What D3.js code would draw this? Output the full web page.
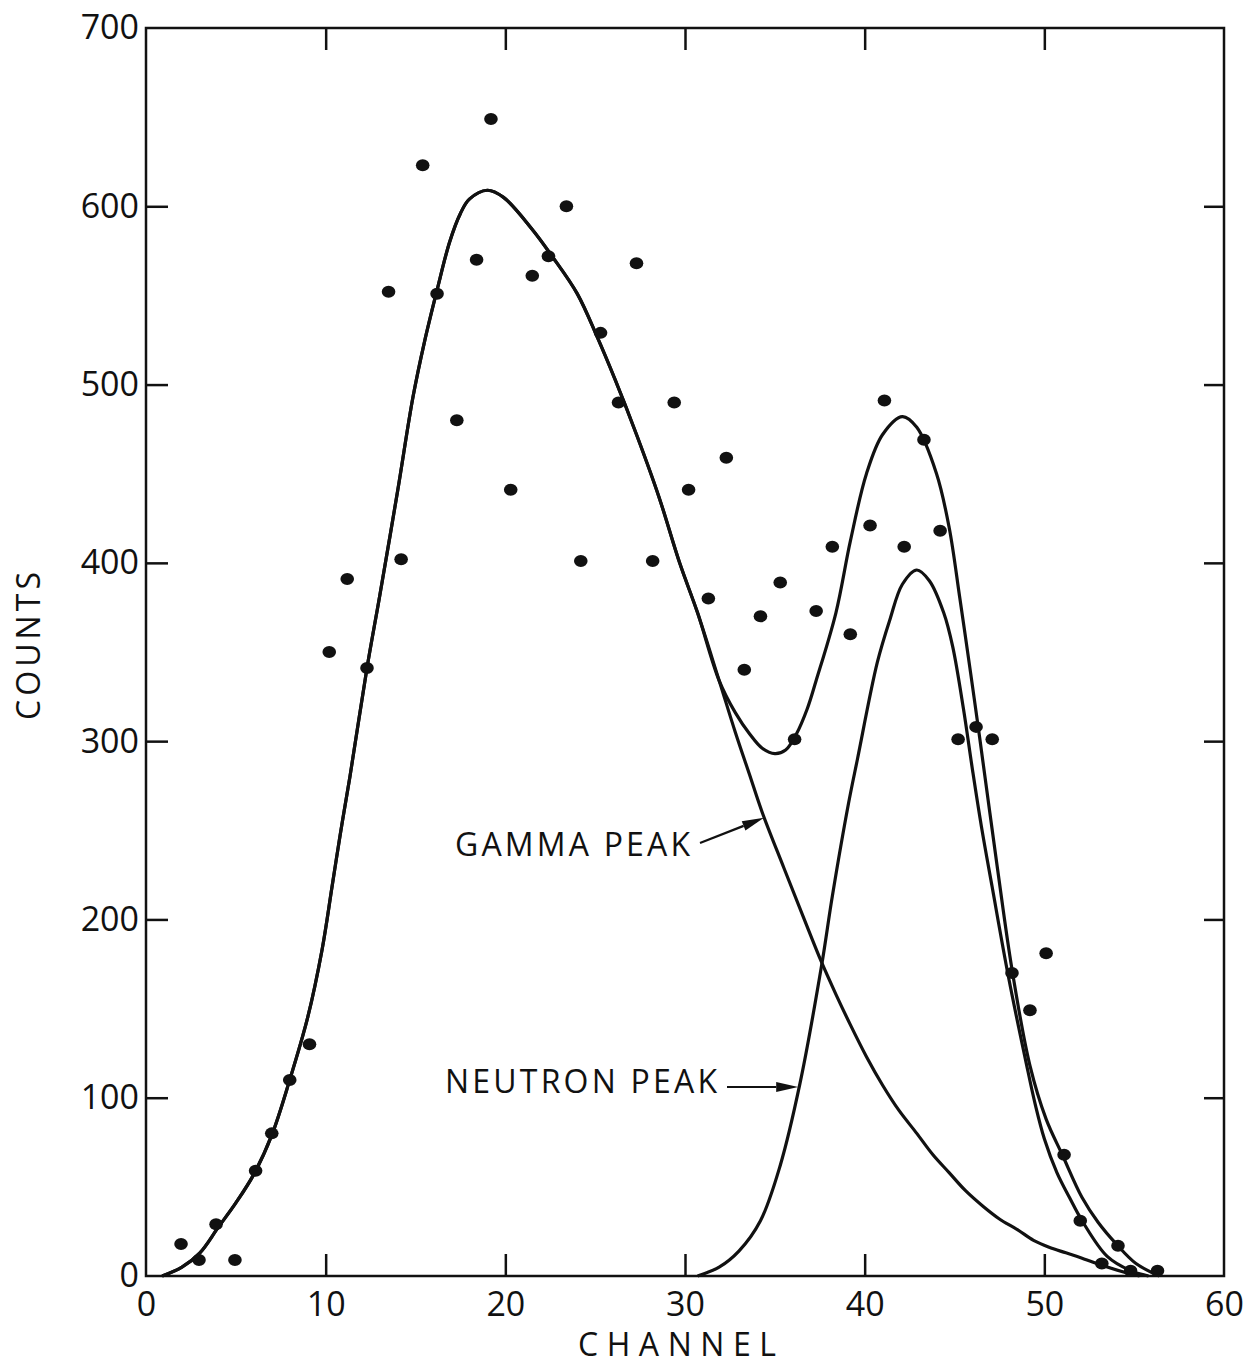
<!DOCTYPE html>
<html>
<head>
<meta charset="utf-8">
<script src="https://cdn.jsdelivr.net/npm/d3@7"></script>
<style>
  html, body { margin: 0; padding: 0; background: #fff; }
  svg { display: block; }
  text { font-family: "Open Sans", "DejaVu Sans", sans-serif; font-weight: 400; fill: #111; }
</style>
</head>
<body>
<svg id="chart" width="1257" height="1365"></svg>
<script>
// ---- data ----
const channel = [1.95,2.95,3.9,4.95,6.1,7.0,8.0,9.1,10.2,11.2,12.3,13.5,14.2,15.4,16.2,17.3,18.4,19.2,20.3,21.5,22.4,23.4,24.2,25.3,26.3,27.3,28.2,29.4,30.2,31.3,32.3,33.3,34.2,35.3,36.1,37.3,38.2,39.2,40.3,41.1,42.2,43.3,44.2,45.2,46.2,47.1,48.2,49.2,50.1,51.1,52.0,53.2,54.1,54.8,56.3];
const counts  = [18,9,29,9,59,80,110,130,350,391,341,552,402,623,551,480,570,649,441,561,572,600,401,529,490,568,401,490,441,380,459,340,370,389,301,373,409,360,421,491,409,469,418,301,308,301,170,149,181,68,31,7,17,3,3];

// total fitted curve
const totalFitX = [0.9,2,3,4,5,6,7,8,9,9.8,10.35,10.8,11.35,12.3,13,14,14.86,15.5,16.2,16.9,17.5,18,19,19.9,21.5,22.6,24,25.1,26.1,27.3,28.55,29.7,30.7,31.9,32.8,33.6,34.3,35,35.6,36.2,36.8,37.3,38.4,39.2,40.1,41.0,42.1,42.9,44.0,44.7,45.3,45.9,46.4,47.4,48.2,49.2,50.1,51.0,52.1,53,54,55.1,56.4];
const totalFitY = [0,5,13,27,41,57,79,110,145,183,218,247,280,341,381,440,493,524,553,580,596,604,609,605,587,572,551,527,503,472,437,400,372,334,316,304,296,293,295,304,318,334,372,412,450,472,482,476,450,420,380,338,302,228,172,118,88,68,44,30,18,7,0];

// gamma peak curve
const gammaFitX = [0.9,2,3,4,5,6,7,8,9,9.8,10.35,10.8,11.35,12.3,13,14,14.86,15.5,16.2,16.9,17.5,18,19,19.9,21.5,22.6,24,25.1,26.1,27.3,28.55,29.7,30.7,31.9,32.8,33.6,34.3,35.5,36.6,37.6,38.4,39.2,40.1,41.0,41.9,42.9,43.8,44.7,45.6,46.6,47.5,48.5,49.4,50.3,51.2,52.1,53.5,54.5,55.3];
const gammaFitY = [0,5,13,27,41,57,79,110,145,183,218,247,280,341,381,440,493,524,553,580,596,604,609,605,587,572,551,527,503,472,437,400,372,334,305,281,260,229,201,176,158,141,123,107,93,80,68,58,48,39,32,26,20,16,13,10,5,2,0];

// neutron peak curve
const neutronFitX = [30.7,31.9,33,34.2,35.3,36.4,37.6,38.2,39.1,39.6,40.7,41.4,42.1,42.9,43.6,44.4,44.9,45.5,46.0,46.5,47.1,48.0,49.0,49.5,50.0,50.7,51.4,52.1,53.5,54.8,55.8];
const neutronFitY = [0,5,14,31,62,108,174,213,265,290,344,368,388,396,390,372,353,318,284,252,218,168,119,96,77,58,44,31,11,3,0];

const xTicks = [0,10,20,30,40,50,60];
const yTicks = [0,100,200,300,400,500,600,700];

const xAxisTitle = "CHANNEL";
const yAxisTitle = "COUNTS";
const gammaLabel = "GAMMA PEAK";
const neutronLabel = "NEUTRON PEAK";
const gammaArrowAt = [34.4, 257];
const neutronArrowAt = [36.3, 106];

// ---- layout ----
const svg = d3.select("#chart");
const mLeft = 146, mRight = 1224, mTop = 28, mBottom = 1276;

const x = d3.scaleLinear().domain([0, 60]).range([mLeft, mRight]);
const y = d3.scaleLinear().domain([0, 700]).range([mBottom, mTop]);

svg.append("rect").attr("width", 1257).attr("height", 1365).attr("fill", "#fff");

// frame
svg.append("rect")
  .attr("x", mLeft).attr("y", mTop)
  .attr("width", mRight - mLeft).attr("height", mBottom - mTop)
  .attr("fill", "none").attr("stroke", "#111").attr("stroke-width", 2.5);

// axes with inward ticks
const fontSize = 34;
const axB = d3.axisBottom(x).tickValues(xTicks).tickSize(-22).tickPadding(16).tickFormat(d3.format("d"));
const axL = d3.axisLeft(y).tickValues(yTicks).tickSize(-22).tickPadding(7).tickFormat(d3.format("d"));
const axT = d3.axisTop(x).tickValues(xTicks.slice(1, -1)).tickSize(-22).tickFormat("");
const axR = d3.axisRight(y).tickValues(yTicks.slice(1, -1)).tickSize(-20).tickFormat("");

function styleAxis(g) {
  g.select(".domain").remove();
  g.selectAll(".tick line").attr("stroke", "#111").attr("stroke-width", 2.5);
  g.selectAll(".tick text").attr("font-size", fontSize)
    .attr("font-family", '"Open Sans", "DejaVu Sans", sans-serif').attr("fill", "#111");
}
svg.append("g").attr("transform", `translate(0,${mBottom})`).call(axB).call(styleAxis);
svg.append("g").attr("transform", `translate(${mLeft},0)`).call(axL).call(styleAxis);
svg.append("g").attr("transform", `translate(0,${mTop})`).call(axT).call(styleAxis);
svg.append("g").attr("transform", `translate(${mRight},0)`).call(axR).call(styleAxis);

// remove edge tick lines that coincide with frame
svg.selectAll(".tick").filter(d => d === 0 || d === 60 || d === 700).select("line").remove();

// axis titles
svg.append("text")
  .attr("x", 677).attr("y", 1356)
  .attr("text-anchor", "middle").attr("font-size", 32)
  .attr("textLength", 198).attr("lengthAdjust", "spacing")
  .text(xAxisTitle);

svg.append("text")
  .attr("transform", "translate(40,646) rotate(-90)")
  .attr("text-anchor", "middle").attr("font-size", 32)
  .attr("textLength", 148).attr("lengthAdjust", "spacing")
  .text(yAxisTitle);

// curves
const line = d3.line().x(d => x(d[0])).y(d => y(d[1])).curve(d3.curveCatmullRom.alpha(0.5));
function draw(xs, ys) {
  svg.append("path")
    .attr("d", line(xs.map((v, i) => [v, ys[i]])))
    .attr("fill", "none").attr("stroke", "#111").attr("stroke-width", 3.2)
    .attr("stroke-linejoin", "round");
}
draw(totalFitX, totalFitY);
draw(gammaFitX, gammaFitY);
draw(neutronFitX, neutronFitY);

// data points
svg.append("g").selectAll("ellipse")
  .data(channel.map((c, i) => [c, counts[i]]))
  .join("ellipse")
  .attr("cx", d => x(d[0])).attr("cy", d => y(d[1]))
  .attr("rx", 6.8).attr("ry", 6).attr("fill", "#111");

// annotations
function arrow(x1, y1, x2, y2) {
  const ang = Math.atan2(y2 - y1, x2 - x1);
  const L = 22, W = 5;
  const bx = x2 - L * Math.cos(ang), by = y2 - L * Math.sin(ang);
  svg.append("line").attr("x1", x1).attr("y1", y1).attr("x2", bx).attr("y2", by)
    .attr("stroke", "#111").attr("stroke-width", 2.2);
  const px = -Math.sin(ang) * W, py = Math.cos(ang) * W;
  svg.append("path")
    .attr("d", `M${x2},${y2}L${bx + px},${by + py}L${bx - px},${by - py}Z`)
    .attr("fill", "#111");
}

svg.append("text").attr("x", 455).attr("y", 856).attr("font-size", 32)
  .attr("textLength", 235).attr("lengthAdjust", "spacing").text(gammaLabel);
arrow(700, 843, x(gammaArrowAt[0]), y(gammaArrowAt[1]));

svg.append("text").attr("x", 445).attr("y", 1093).attr("font-size", 32)
  .attr("textLength", 272).attr("lengthAdjust", "spacing").text(neutronLabel);
arrow(727, y(neutronArrowAt[1]), x(neutronArrowAt[0]), y(neutronArrowAt[1]));
</script>
</body>
</html>
